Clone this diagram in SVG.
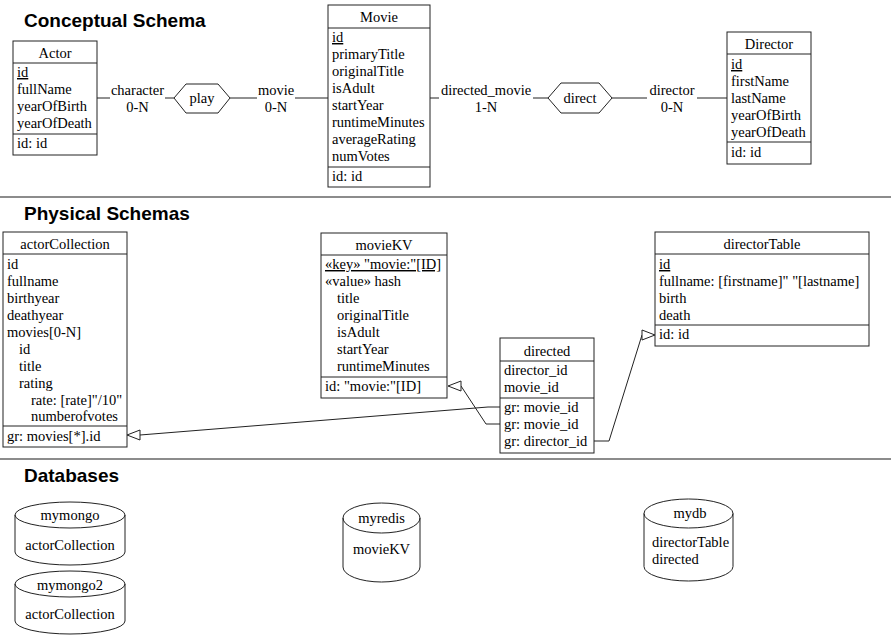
<svg xmlns="http://www.w3.org/2000/svg" width="891" height="635" viewBox="0 0 891 635">
  <style>
    .bg { fill: #ffffff; }
    .box { fill: #ffffff; stroke: #222; stroke-width: 1; }
    .rule { stroke: #222; stroke-width: 1; }
    .sep { stroke: #666; stroke-width: 1.5; }
    .t { font-family: "Liberation Serif", "Times New Roman", serif; font-size: 14.5px; fill: #000; }
    .c { text-anchor: middle; }
    .u { text-decoration: underline; }
    .h { font-family: "Liberation Sans", Arial, sans-serif; font-size: 19px; font-weight: bold; fill: #000; }
    .ln { fill: none; stroke: #222; stroke-width: 1; }
    .tri { fill: #ffffff; stroke: #222; stroke-width: 1; }
    .cyl { fill: #ffffff; stroke: #222; stroke-width: 1; }
  </style>

  <rect class="bg" x="0" y="0" width="891" height="635"/>

  <!-- section headings and dividers -->
  <text class="h" x="24" y="27">Conceptual Schema</text>
  <line class="sep" x1="0" y1="197" x2="891" y2="197"/>
  <text class="h" x="24" y="220">Physical Schemas</text>
  <line class="sep" x1="0" y1="459" x2="891" y2="459"/>
  <text class="h" x="24" y="482">Databases</text>

  <!-- connectors -->
  <g id="connectors">
    <!-- Actor - play - Movie -->
    <line class="ln" x1="97" y1="98" x2="110" y2="98"/>
    <line class="ln" x1="165" y1="98" x2="174" y2="98"/>
    <text class="t c" x="137.5" y="95">character</text>
    <text class="t c" x="137.5" y="112">0-N</text>
    <line class="ln" x1="230" y1="98" x2="257" y2="98"/>
    <line class="ln" x1="295" y1="98" x2="328" y2="98"/>
    <text class="t c" x="276" y="95">movie</text>
    <text class="t c" x="276" y="112">0-N</text>
    <!-- Movie - direct - Director -->
    <line class="ln" x1="430" y1="98" x2="439" y2="98"/>
    <line class="ln" x1="533" y1="98" x2="548" y2="98"/>
    <text class="t c" x="486" y="95">directed_movie</text>
    <text class="t c" x="486" y="112">1-N</text>
    <line class="ln" x1="612" y1="98" x2="647" y2="98"/>
    <line class="ln" x1="697" y1="98" x2="727" y2="98"/>
    <text class="t c" x="672" y="95">director</text>
    <text class="t c" x="672" y="112">0-N</text>

    <!-- physical references -->
    <path class="ln" d="M500,407 H488 L140,435"/>
    <polygon class="tri" points="127,435 140,430 140,440"/>
    <path class="ln" d="M500,424 H486 L461,386"/>
    <polygon class="tri" points="448,386 461,381 461,391"/>
    <path class="ln" d="M594,441 H609 L642,335"/>
    <polygon class="tri" points="655,335 642,330 642,340"/>
  </g>

  <!-- conceptual entities -->
  <g id="actor">
    <rect class="box" x="13" y="41" width="84" height="114"/>
    <line class="rule" x1="13" y1="63" x2="97" y2="63"/>
    <line class="rule" x1="13" y1="134" x2="97" y2="134"/>
    <text class="t c" x="55" y="58">Actor</text>
    <text class="t u" x="17" y="77">id</text>
    <text class="t" x="17" y="94">fullName</text>
    <text class="t" x="17" y="111">yearOfBirth</text>
    <text class="t" x="17" y="128">yearOfDeath</text>
    <text class="t" x="17" y="148">id: id</text>
  </g>

  <g id="play">
    <polygon class="box" points="174,98 186,84 218,84 230,98 218,113 186,113"/>
    <text class="t c" x="202" y="103">play</text>
  </g>

  <g id="movie">
    <rect class="box" x="328" y="5" width="102" height="182"/>
    <line class="rule" x1="328" y1="28" x2="430" y2="28"/>
    <line class="rule" x1="328" y1="167" x2="430" y2="167"/>
    <text class="t c" x="379" y="22">Movie</text>
    <text class="t u" x="332" y="42">id</text>
    <text class="t" x="332" y="59">primaryTitle</text>
    <text class="t" x="332" y="76">originalTitle</text>
    <text class="t" x="332" y="93">isAdult</text>
    <text class="t" x="332" y="110">startYear</text>
    <text class="t" x="332" y="127">runtimeMinutes</text>
    <text class="t" x="332" y="144">averageRating</text>
    <text class="t" x="332" y="161">numVotes</text>
    <text class="t" x="332" y="181">id: id</text>
  </g>

  <g id="direct">
    <polygon class="box" points="548,98 561,83 599,83 612,98 599,113 561,113"/>
    <text class="t c" x="580" y="103">direct</text>
  </g>

  <g id="director">
    <rect class="box" x="727" y="32" width="84" height="132"/>
    <line class="rule" x1="727" y1="54" x2="811" y2="54"/>
    <line class="rule" x1="727" y1="142" x2="811" y2="142"/>
    <text class="t c" x="769" y="49">Director</text>
    <text class="t u" x="731" y="69">id</text>
    <text class="t" x="731" y="86">firstName</text>
    <text class="t" x="731" y="103">lastName</text>
    <text class="t" x="731" y="120">yearOfBirth</text>
    <text class="t" x="731" y="137">yearOfDeath</text>
    <text class="t" x="731" y="157">id: id</text>
  </g>

  <!-- physical structures -->
  <g id="actorCollection">
    <rect class="box" x="3" y="232" width="124" height="215"/>
    <line class="rule" x1="3" y1="254" x2="127" y2="254"/>
    <line class="rule" x1="3" y1="426" x2="127" y2="426"/>
    <text class="t c" x="65" y="249">actorCollection</text>
    <text class="t" x="7" y="269">id</text>
    <text class="t" x="7" y="286">fullname</text>
    <text class="t" x="7" y="303">birthyear</text>
    <text class="t" x="7" y="320">deathyear</text>
    <text class="t" x="7" y="337">movies[0-N]</text>
    <text class="t" x="19" y="354">id</text>
    <text class="t" x="19" y="371">title</text>
    <text class="t" x="19" y="388">rating</text>
    <text class="t" x="31" y="405">rate: [rate]"/10"</text>
    <text class="t" x="31" y="421">numberofvotes</text>
    <text class="t" x="7" y="441">gr: movies[*].id</text>
  </g>

  <g id="movieKV">
    <rect class="box" x="321" y="233" width="126" height="165"/>
    <line class="rule" x1="321" y1="255" x2="447" y2="255"/>
    <line class="rule" x1="321" y1="377" x2="447" y2="377"/>
    <text class="t c" x="384" y="250">movieKV</text>
    <text class="t u" x="325" y="269">«key» "movie:"[ID]</text>
    <text class="t" x="325" y="286">«value» hash</text>
    <text class="t" x="337" y="303">title</text>
    <text class="t" x="337" y="320">originalTitle</text>
    <text class="t" x="337" y="337">isAdult</text>
    <text class="t" x="337" y="354">startYear</text>
    <text class="t" x="337" y="371">runtimeMinutes</text>
    <text class="t" x="325" y="391">id: "movie:"[ID]</text>
  </g>

  <g id="directed">
    <rect class="box" x="500" y="338" width="94" height="115"/>
    <line class="rule" x1="500" y1="361" x2="594" y2="361"/>
    <line class="rule" x1="500" y1="398" x2="594" y2="398"/>
    <text class="t c" x="547" y="356">directed</text>
    <text class="t" x="504" y="375">director_id</text>
    <text class="t" x="504" y="392">movie_id</text>
    <text class="t" x="504" y="412">gr: movie_id</text>
    <text class="t" x="504" y="429">gr: movie_id</text>
    <text class="t" x="504" y="446">gr: director_id</text>
  </g>

  <g id="directorTable">
    <rect class="box" x="655" y="232" width="214" height="114"/>
    <line class="rule" x1="655" y1="254" x2="869" y2="254"/>
    <line class="rule" x1="655" y1="325" x2="869" y2="325"/>
    <text class="t c" x="762" y="249">directorTable</text>
    <text class="t u" x="659" y="269">id</text>
    <text class="t" x="659" y="286">fullname: [firstname]" "[lastname]</text>
    <text class="t" x="659" y="303">birth</text>
    <text class="t" x="659" y="320">death</text>
    <text class="t" x="659" y="339">id: id</text>
  </g>

  <!-- databases -->
  <g id="mymongo">
    <path class="cyl" d="M15,515 A55,13 0 0 1 125,515 V552 A55,13 0 0 1 15,552 Z"/>
    <path class="ln" d="M15,515 A55,13 0 0 0 125,515"/>
    <text class="t c" x="70" y="520">mymongo</text>
    <text class="t c" x="70" y="550">actorCollection</text>
  </g>

  <g id="mymongo2">
    <path class="cyl" d="M15,584 A55,13 0 0 1 125,584 V621 A55,13 0 0 1 15,621 Z"/>
    <path class="ln" d="M15,584 A55,13 0 0 0 125,584"/>
    <text class="t c" x="70" y="590">mymongo2</text>
    <text class="t c" x="70" y="619">actorCollection</text>
  </g>

  <g id="myredis">
    <path class="cyl" d="M343,518 A38.5,15 0 0 1 420,518 V567 A38.5,15 0 0 1 343,567 Z"/>
    <path class="ln" d="M343,518 A38.5,15 0 0 0 420,518"/>
    <text class="t c" x="381.5" y="523">myredis</text>
    <text class="t c" x="381.5" y="554">movieKV</text>
  </g>

  <g id="mydb">
    <path class="cyl" d="M644,513.5 A44.5,14.5 0 0 1 733,513.5 V566.5 A44.5,14.5 0 0 1 644,566.5 Z"/>
    <path class="ln" d="M644,513.5 A44.5,14.5 0 0 0 733,513.5"/>
    <text class="t c" x="690" y="518">mydb</text>
    <text class="t" x="652" y="547">directorTable</text>
    <text class="t" x="652" y="564">directed</text>
  </g>
</svg>
